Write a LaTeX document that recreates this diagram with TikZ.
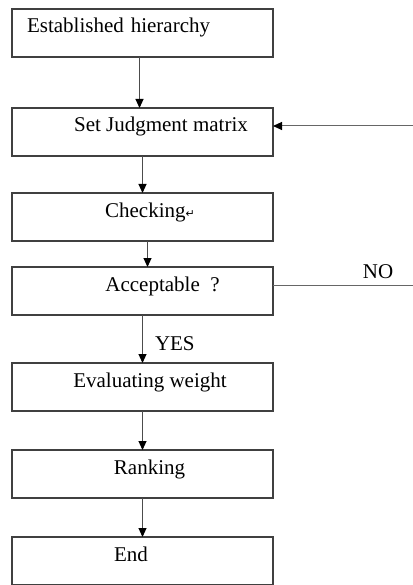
\documentclass[tikz,border=0pt]{standalone}
\usepackage{fontspec}
\setmainfont{Liberation Serif}
\newfontfamily\symfont{DejaVu Sans}
\usetikzlibrary{positioning,arrows.meta}

\begin{document}
\begin{tikzpicture}[
    x=1pt, y=1pt,
    stepbox/.style={rectangle, draw=black!75, line width=1.1pt, outer sep=0pt, minimum width=261pt, inner ysep=0pt, text height=24pt, text depth=24pt, font=\fontsize{21}{24}\selectfont},
    arrow/.style={-{Triangle[width=8pt,length=9pt,color=black]}, line width=1pt, black!70},
    loopline/.style={line width=0.9pt, black!60},
    tag/.style={inner sep=0pt, text=black, font=\fontsize{21}{24}\selectfont}
]
\useasboundingbox (0,0) rectangle (412,-585);

% Steps of the procedure
\node[stepbox, anchor=north west, align=left, text width=231pt, inner xsep=15pt] (hier) at (12,-9) {Established hierarchy};
\node[stepbox, below=51pt of hier] (judge) {\hspace*{37pt}Set Judgment matrix};
\node[stepbox, below=37pt of judge] (check) {\hspace*{15pt}Checking{\symfont\fontsize{11}{12}\selectfont ↵}};
\node[stepbox, below=26pt of check] (accept) {\hspace*{40pt}Acceptable~~?};
\node[stepbox, below=48pt of accept] (weight) {\hspace*{15pt}Evaluating weight};
\node[stepbox, below=39pt of weight] (rank) {\hspace*{14pt}Ranking};
\node[stepbox, below=39pt of rank] (finish) {End\hspace*{23pt}};

% Free ends of the feedback loop (at the picture edge)
\path ([yshift=6pt]accept.east) ++(140,0) coordinate (noend);
\path ([yshift=6pt]judge.east) ++(140,0) coordinate (backin);

% Arrows
\draw[arrow] ([xshift=-3pt]hier.south) -- ([xshift=-3pt]judge.north);
\draw[arrow] (judge.south) -- (check.north);
\draw[arrow] ([xshift=5pt]check.south) -- ([xshift=5pt]accept.north);
\draw[arrow] (accept.south) -- node[tag, pos=0.6, right=12pt] {YES} (weight.north);
\draw[arrow] (weight.south) -- (rank.north);
\draw[arrow] (rank.south) -- (finish.north);

% Feedback loop
\draw[loopline] ([yshift=6pt]accept.east) -- node[tag, pos=0.75, above=6pt] {NO} (noend);
\draw[arrow, black!60] (backin) -- ([yshift=6pt]judge.east);

\end{tikzpicture}
\end{document}
